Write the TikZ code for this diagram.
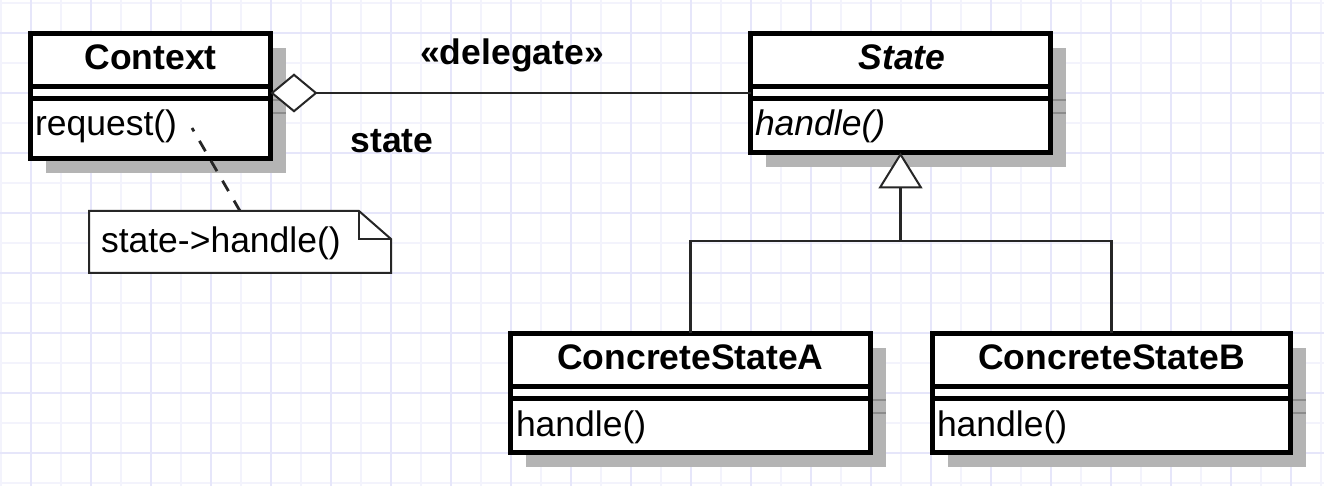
\documentclass[tikz,border=0pt]{standalone}
\usepackage{fontspec}
\setmainfont{Liberation Sans}
\usetikzlibrary{arrows.meta,shadows,calc}
\definecolor{gridA}{RGB}{230,230,250}
\definecolor{gridB}{RGB}{243,243,252}
\definecolor{shadowgray}{RGB}{180,180,180}
\definecolor{stubgray}{RGB}{140,140,140}
\newcommand\umlcompartments[1]{%
  \draw[divider] ([yshift=-26.5pt]#1.north west) -- ([yshift=-26.5pt]#1.north east);
  \draw[divider] ([yshift=-32.75pt]#1.north west) -- ([yshift=-32.75pt]#1.north east);
  \draw[stub] ([xshift=1.25pt,yshift=-33.5pt]#1.north east) -- ++(6.25pt,0);
  \draw[stub] ([xshift=1.25pt,yshift=-39.75pt]#1.north east) -- ++(6.25pt,0);
}
\begin{document}
\begin{tikzpicture}[x=0.5pt,y=-0.5pt,
  classbox/.style={draw=black, line width=2.5pt, fill=white, inner sep=0pt, outer sep=0pt,
    drop shadow={shadow xshift=7.5pt, shadow yshift=-7.5pt, fill=shadowgray, opacity=1}},
  divider/.style={draw=black, line width=2.5pt},
  stub/.style={draw=stubgray, line width=1pt},
  txt/.style={inner sep=0pt, outer sep=0pt, font=\fontsize{17.75}{21}\selectfont},
  btxt/.style={txt, font=\fontsize{17.75}{21}\selectfont\bfseries},
  link/.style={draw=black!85, line width=1.2pt},
  notebox/.style={inner sep=0pt, outer sep=0pt, minimum width=151pt, minimum height=31pt},
  noteline/.style={draw=black!85, line width=1pt, fill=white},
  anchorline/.style={draw=black!85, line width=1.4pt, dash pattern=on 6pt off 5.5pt}]
\useasboundingbox (0,0) rectangle (1324,486);
\fill[white] (0,0) rectangle (1324,486);
% grid
\foreach \k in {0,2,...,44} { \draw[gridB, line width=1pt] ({1+30*\k},0) -- ({1+30*\k},486); }
\foreach \k in {0,2,...,16} { \draw[gridB, line width=1pt] (0,{2.7+30*\k}) -- (1324,{2.7+30*\k}); }
\foreach \k in {1,3,...,43} { \draw[gridA, line width=1pt] ({1+30*\k},0) -- ({1+30*\k},486); }
\foreach \k in {1,3,...,15} { \draw[gridA, line width=1pt] (0,{2.7+30*\k}) -- (1324,{2.7+30*\k}); }

% classes
\node[classbox, minimum width=120pt, minimum height=62.5pt] (ctx) at (150.5,96) {};
\node[classbox, minimum width=150pt, minimum height=59.5pt] (st) at (900.5,93) {};
\node[classbox, minimum width=180pt, minimum height=59.5pt] (csa) at (690.5,393) {};
\node[classbox, minimum width=179pt, minimum height=59.5pt] (csb) at (1111.5,393) {};
\umlcompartments{ctx}
\umlcompartments{st}
\umlcompartments{csa}
\umlcompartments{csb}

% class texts
\node[btxt, anchor=base] (ctxname) at (150.5,70) {Context};
\node[txt, anchor=base west] (ctxop) at (35,136) {request()};
\node[btxt, anchor=base, font=\fontsize{17.75}{21}\selectfont\bfseries\itshape] (stname) at (902,70) {State};
\node[txt, anchor=base west, font=\fontsize{17.75}{21}\selectfont\itshape] (stop) at (755,136) {handle()};
\node[btxt, anchor=base] (csaname) at (690.5,370) {ConcreteStateA};
\node[txt, anchor=base west] (csaop) at (516,437) {handle()};
\node[btxt, anchor=base] (csbname) at (1111.5,370) {ConcreteStateB};
\node[txt, anchor=base west] (csbop) at (937,437) {handle()};

% association (aggregation)
\draw[link, {Diamond[fill=white, length=23.5pt, width=19.5pt, line width=1pt]}-] (ctx.east |- st.west) -- (st.west);
\node[btxt, anchor=base] (stereo) at (512,65) {«delegate»};
\node[btxt, anchor=base] (role) at (392,153) {state};

% generalization
\coordinate (jn) at (900.5,241);
\draw[link, line width=1.25pt] (csa.north) |- (jn);
\draw[link, line width=1.25pt] (csb.north) |- (jn);
\draw[link, line width=1.25pt, -{Triangle[fill=white, length=18pt, width=22pt, line width=1pt]}] (jn) -- (st.south);

% note
\node[notebox] (note) at (240,242) {};
\draw[noteline] (note.north west) -- ([xshift=-16pt]note.north east) -- ([yshift=-14pt]note.north east)
  -- (note.south east) -- (note.south west) -- cycle;
\draw[noteline, fill=none] ([xshift=-16pt]note.north east) |- ([yshift=-14pt]note.north east);
\node[txt, anchor=base west] (notetext) at (101,253) {state->handle()};
\coordinate (opanchor) at (192,128);
\draw[anchorline] (note.north) -- (opanchor);
\end{tikzpicture}
\end{document}
